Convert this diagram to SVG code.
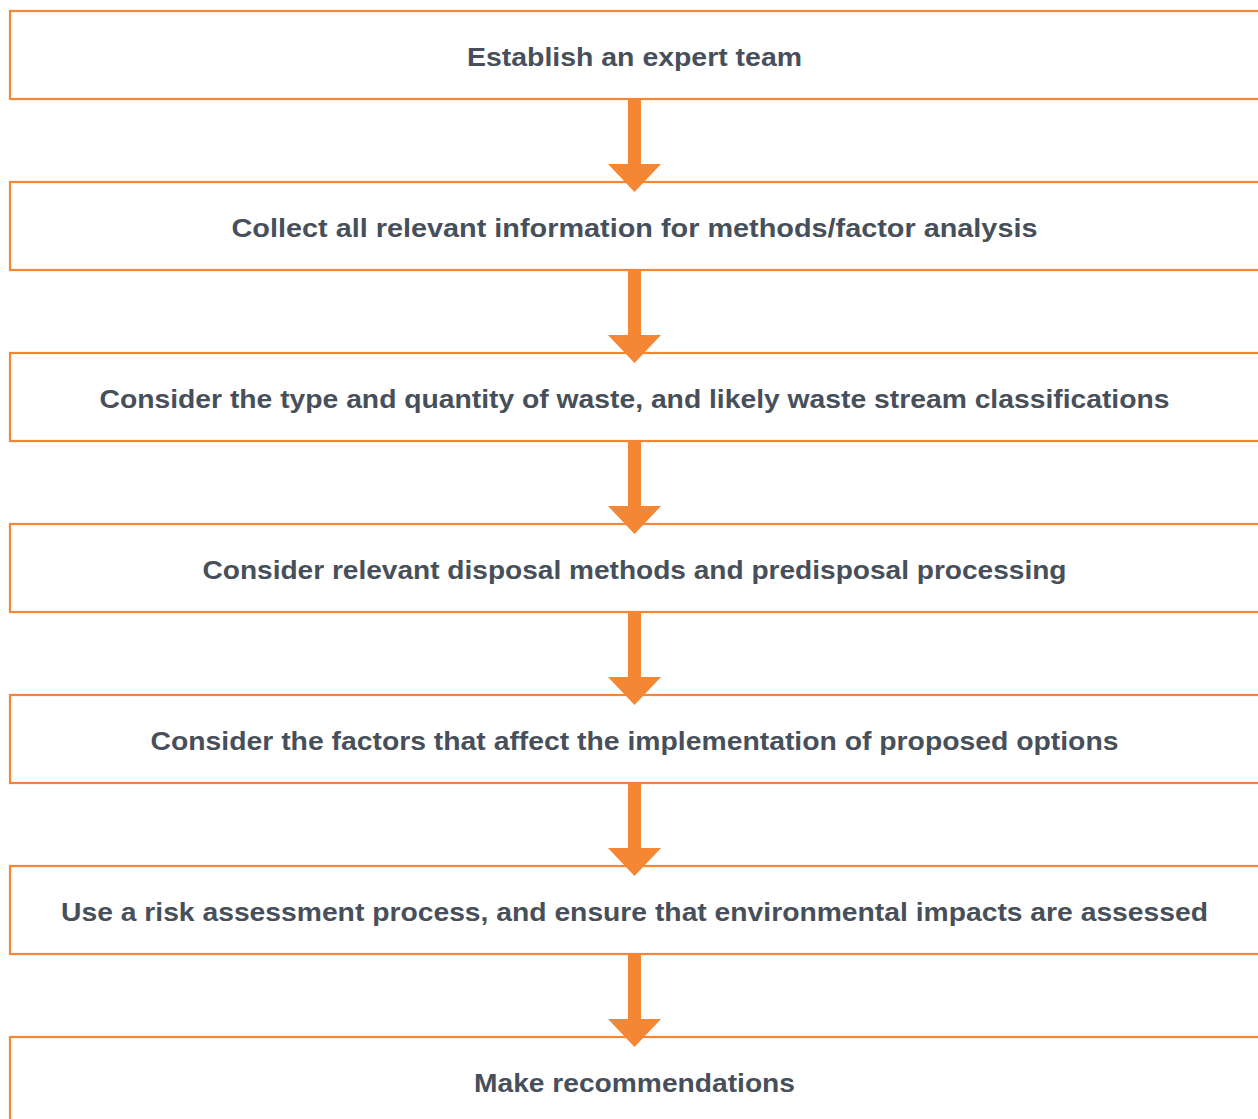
<svg xmlns="http://www.w3.org/2000/svg" width="1258" height="1119" viewBox="0 0 1258 1119">
<style>
.box{fill:#ffffff;stroke:#f58634;stroke-width:2.2}
.lbl{font-family:"Liberation Sans",Arial,sans-serif;font-weight:bold;font-size:25px;fill:#47505a;text-anchor:middle}
.arr{fill:#f58634}
</style>
<rect width="1258" height="1119" fill="#ffffff"/>
<g id="n1"><rect class="box" x="10" y="11" width="1260" height="88"/><text class="lbl" x="634.5" y="65.5" textLength="335" lengthAdjust="spacingAndGlyphs">Establish an expert team</text></g>
<g id="n2"><rect class="box" x="10" y="182" width="1260" height="88"/><text class="lbl" x="634.5" y="236.5" textLength="806" lengthAdjust="spacingAndGlyphs">Collect all relevant information for methods/factor analysis</text></g>
<g id="n3"><rect class="box" x="10" y="353" width="1260" height="88"/><text class="lbl" x="634.5" y="407.5" textLength="1070" lengthAdjust="spacingAndGlyphs">Consider the type and quantity of waste, and likely waste stream classifications</text></g>
<g id="n4"><rect class="box" x="10" y="524" width="1260" height="88"/><text class="lbl" x="634.5" y="578.5" textLength="864" lengthAdjust="spacingAndGlyphs">Consider relevant disposal methods and predisposal processing</text></g>
<g id="n5"><rect class="box" x="10" y="695" width="1260" height="88"/><text class="lbl" x="634.5" y="749.5" textLength="968" lengthAdjust="spacingAndGlyphs">Consider the factors that affect the implementation of proposed options</text></g>
<g id="n6"><rect class="box" x="10" y="866" width="1260" height="88"/><text class="lbl" x="634.5" y="920.5" textLength="1147" lengthAdjust="spacingAndGlyphs">Use a risk assessment process, and ensure that environmental impacts are assessed</text></g>
<g id="n7"><rect class="box" x="10" y="1037" width="1260" height="100"/><text class="lbl" x="634.5" y="1091.5" textLength="321" lengthAdjust="spacingAndGlyphs">Make recommendations</text></g>
<g id="connectors">
<polygon class="arr" points="628,100 641,100 641,164 661,164 634.5,192 608,164 628,164"/>
<polygon class="arr" points="628,271 641,271 641,335 661,335 634.5,363 608,335 628,335"/>
<polygon class="arr" points="628,442 641,442 641,506 661,506 634.5,534 608,506 628,506"/>
<polygon class="arr" points="628,613 641,613 641,677 661,677 634.5,705 608,677 628,677"/>
<polygon class="arr" points="628,784 641,784 641,848 661,848 634.5,876 608,848 628,848"/>
<polygon class="arr" points="628,955 641,955 641,1019 661,1019 634.5,1047 608,1019 628,1019"/>
</g>
</svg>
